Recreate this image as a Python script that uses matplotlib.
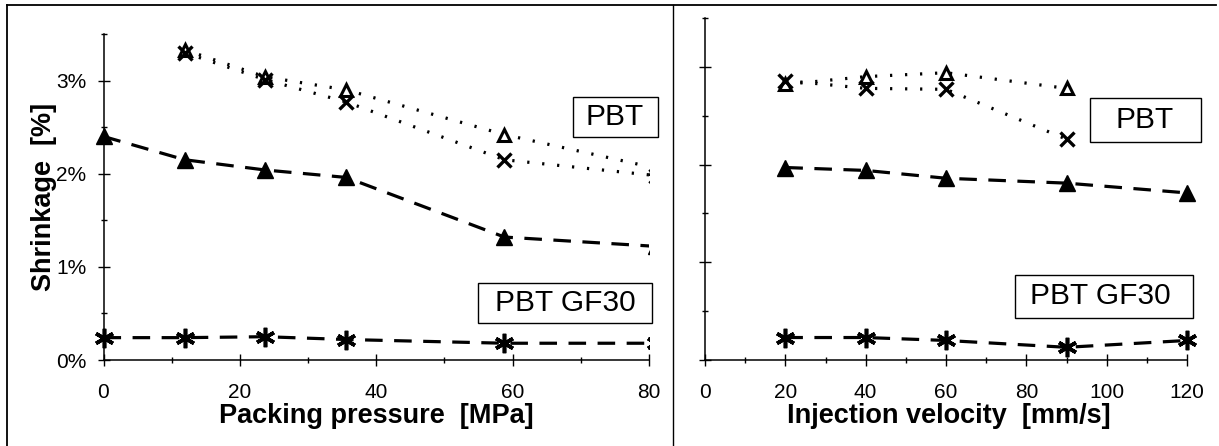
import matplotlib
matplotlib.use('Agg')
import matplotlib.pyplot as plt
import numpy as np
from matplotlib.lines import Line2D
from matplotlib.patches import Rectangle
from matplotlib.ticker import MultipleLocator, FuncFormatter

plt.rcParams['font.family'] = ['Liberation Sans', 'DejaVu Sans']
plt.rcParams['xtick.labelsize'] = 15
plt.rcParams['ytick.labelsize'] = 15

# packing pressure series (MPa, shrinkage %)
pressure = [0, 11.9, 23.7, 35.6, 58.8, 81]
press_pbt_open = [np.nan, 3.33, 3.04, 2.90, 2.42, 2.06]
press_pbt_x = [np.nan, 3.30, 3.01, 2.77, 2.15, 1.98]
press_gf_tri = [2.40, 2.15, 2.04, 1.96, 1.32, 1.22]
press_gf_ast = [0.24, 0.24, 0.25, 0.22, 0.18, 0.18]

# injection velocity series (mm/s, shrinkage %)
velocity = [20, 40, 60, 90, 120]
vel_pbt_open = [2.82, 2.90, 2.94, 2.78, np.nan]
vel_pbt_x = [2.86, 2.78, 2.77, 2.26, np.nan]
vel_gf_tri = [1.97, 1.94, 1.86, 1.81, 1.71]
vel_gf_ast = [0.23, 0.23, 0.20, 0.13, 0.20]

W, H = 1219, 446
fig = plt.figure(figsize=(W / 100, H / 100), dpi=100)


def fx(p):
    return p / W


def fy(p):
    return 1 - p / H


dotted = (0, (0.7, 4.0))
dashed = (0, (5.5, 3.6))


def draw(ax, x, opn, xs, tri, ast, right_clip):
    kw = dict(color='black')
    lines = []
    lines += ax.plot(x, opn, linestyle=dotted, lw=2.3, marker='^', ms=9,
                     mfc='white', mec='black', mew=2.2, **kw)
    lines += ax.plot(x, xs, linestyle=dotted, lw=2.3, marker='x', ms=10,
                     mew=2.4, **kw)
    lines += ax.plot(x, tri, linestyle=dashed, lw=2.3, marker='^', ms=11, **kw)
    lines += ax.plot(x, ast, linestyle=dashed, lw=2.3, marker=(6, 2, 0), ms=14,
                     mew=2.6, **kw)
    clip = Rectangle((-0.1, -0.1), 0.1 + right_clip, 1.3, transform=ax.transAxes)
    for ln in lines:
        ln.set_clip_path(clip)


def style(ax):
    for s in ['top', 'right']:
        ax.spines[s].set_visible(False)
    for s in ['left', 'bottom']:
        ax.spines[s].set_linewidth(1.1)
    ax.set_ylim(0, 3.5)
    ax.yaxis.set_major_locator(MultipleLocator(1))
    ax.yaxis.set_minor_locator(MultipleLocator(0.5))
    ax.xaxis.set_major_locator(MultipleLocator(20))
    ax.xaxis.set_minor_locator(MultipleLocator(10))
    ax.tick_params(which='major', direction='inout', length=9, width=1)
    ax.tick_params(which='minor', direction='inout', length=5, width=1)
    ax.tick_params(axis='x', pad=12)
    ax.tick_params(axis='y', pad=8)


# left panel
ax1 = fig.add_axes([fx(103.5), 1 - 360 / H, fx(649 - 103.5), (360 - 34) / H])
draw(ax1, pressure, press_pbt_open, press_pbt_x, press_gf_tri, press_gf_ast, 1.0)
style(ax1)
ax1.set_xlim(0, 80)
ax1.yaxis.set_major_formatter(FuncFormatter(lambda v, p: '%d%%' % v))

# right panel
ax2 = fig.add_axes([fx(705), 1 - 360 / H, fx(1187 - 705), (360 - 18) / H])
draw(ax2, velocity, vel_pbt_open, vel_pbt_x, vel_gf_tri, vel_gf_ast, 1.06)
style(ax2)
ax2.set_xlim(0, 120)
ax2.tick_params(axis='y', labelleft=False)

# axis titles
fig.text(fx(44), fy(197), 'Shrinkage  [%]', rotation=90, ha='center',
         va='center', fontsize=19.5, fontweight='bold')
fig.text(fx(376), fy(416), 'Packing pressure  [MPa]', ha='center',
         va='center', fontsize=19.5, fontweight='bold')
fig.text(fx(949), fy(416), 'Injection velocity  [mm/s]', ha='center',
         va='center', fontsize=19.5, fontweight='bold')

# label boxes
boxes = [
    ((573, 97, 658, 137), 'PBT', 615),
    ((478, 283, 652, 323), 'PBT GF30', 565),
    ((1090, 98, 1201, 142), 'PBT', 1145),
    ((1015, 275, 1193, 318), 'PBT GF30', 1100),
]
for (x0, y0, x1, y1), label, cx in boxes:
    fig.add_artist(Rectangle((fx(x0), fy(y1)), fx(x1 - x0), (y1 - y0) / H,
                             transform=fig.transFigure, fill=False,
                             ec='black', lw=1))
    fig.text(fx(cx), fy((y0 + y1) / 2), label, ha='center', va='center',
             fontsize=21.5)

# outer frame
fig.add_artist(Line2D([fx(7), fx(1216)], [fy(5), fy(5)], color='black', lw=1.3))
fig.add_artist(Line2D([fx(7), fx(7)], [fy(5), 0], color='black', lw=1.3))
fig.add_artist(Line2D([fx(673), fx(673)], [fy(5), 0], color='black', lw=1))

fig.savefig('out.png', dpi=100)
